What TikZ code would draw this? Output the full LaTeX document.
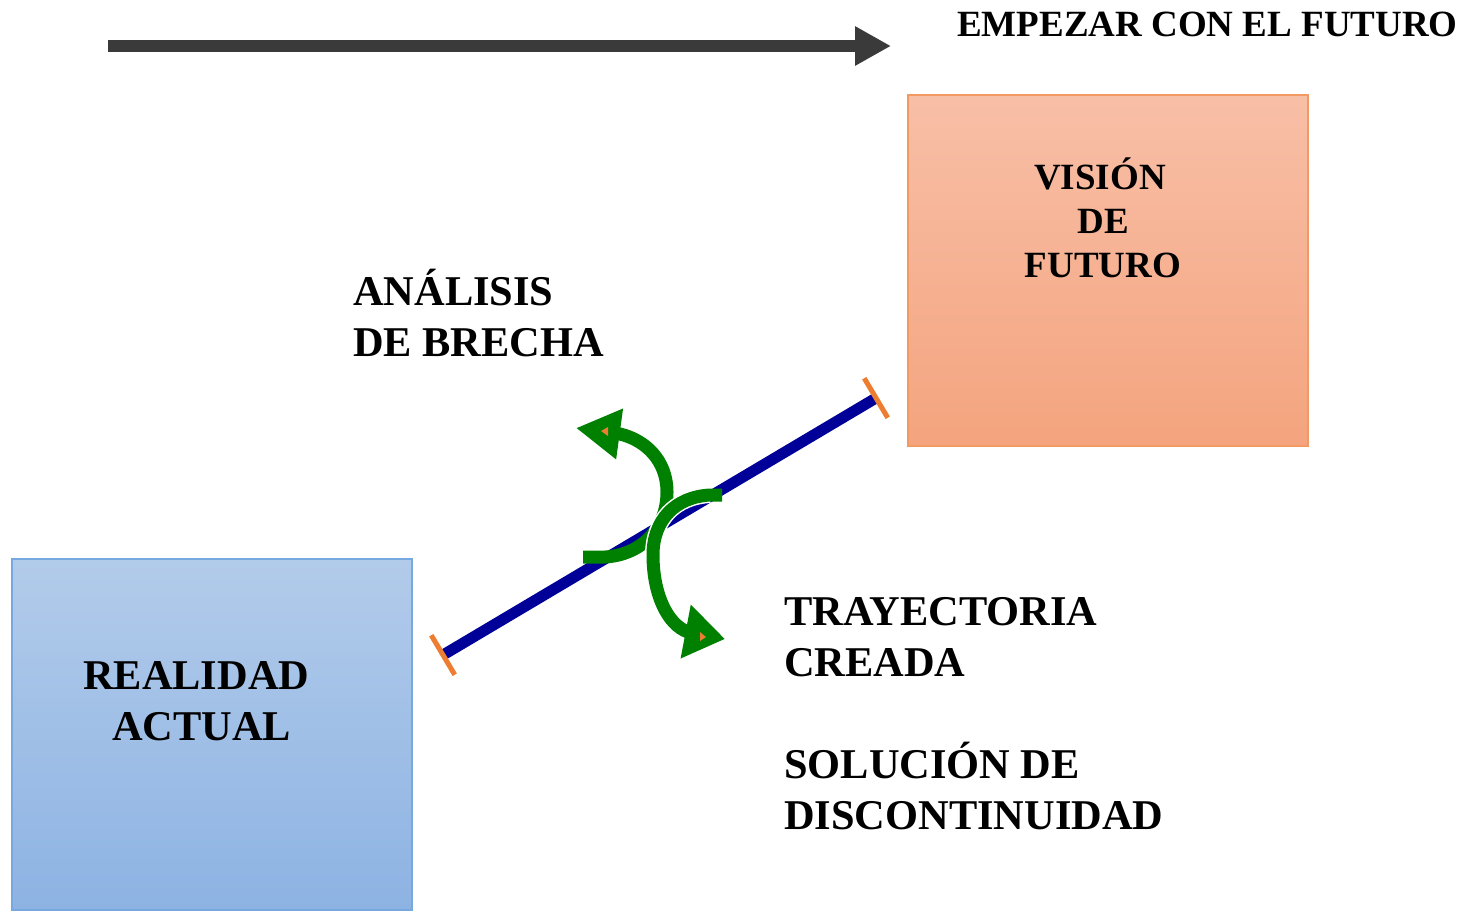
\documentclass[tikz,border=0pt]{standalone}
\usepackage{fontspec}
\setmainfont{Liberation Serif}
\usetikzlibrary{arrows.meta,calc}
\definecolor{orfill1}{HTML}{F8BFA7}
\definecolor{orfill2}{HTML}{F4A47E}
\definecolor{ordraw}{HTML}{F29A62}
\definecolor{blfill1}{HTML}{B2CBEA}
\definecolor{blfill2}{HTML}{8DB3E3}
\definecolor{bldraw}{HTML}{78A8E0}
\definecolor{navyline}{HTML}{000099}
\definecolor{greenarr}{HTML}{008000}
\definecolor{ticko}{HTML}{ED7D31}
\definecolor{darkarr}{HTML}{3A3A3A}
\tikzset{
  bigtxt/.style={inner sep=0pt, font=\fontsize{42.4}{51}\selectfont\bfseries},
  smalltxt/.style={inner sep=0pt, font=\fontsize{37}{44}\selectfont\bfseries},
  greencurve/.style={draw=greenarr, line width=13pt},
  tickline/.style={draw=ticko, line width=5pt},
}
\begin{document}
\begin{tikzpicture}[x=1pt,y=-1pt]
\useasboundingbox (0,0) rectangle (1466,913);
% boxes
\path[top color=orfill1, bottom color=orfill2, draw=ordraw, line width=1.5pt] (908,95) rectangle (1308,446);
\path[top color=blfill1, bottom color=blfill2, draw=bldraw, line width=1.5pt] (12,559) rectangle (412,910);
% top arrow
\coordinate (t1) at (108,46);
\coordinate (t2) at (891,46);
\draw[darkarr, line width=12pt, -{Triangle[length=36pt,width=37pt]}] (t1) -- (t2);
\node[smalltxt, anchor=base west] (emp) at (957,36) {EMPEZAR CON EL FUTURO};
% vision text
\node[smalltxt, anchor=base] (v1) at (1100,189) {VISIÓN};
\node[smalltxt, anchor=base] (v2) at (1103,233) {DE};
\node[smalltxt, anchor=base] (v3) at (1103,277) {FUTURO};
% realidad text
\node[bigtxt, anchor=base west] (r1) at (83,689) {REALIDAD};
\node[bigtxt, anchor=base west] (r2) at (112,740) {ACTUAL};
% analisis
\node[bigtxt, anchor=base west] (a1) at (353,305) {ANÁLISIS};
\node[bigtxt, anchor=base west] (a2) at (353,356) {DE BRECHA};
% trayectoria
\node[bigtxt, anchor=base west] (tr1) at (784,625) {TRAYECTORIA};
\node[bigtxt, anchor=base west] (tr2) at (784,676) {CREADA};
\node[bigtxt, anchor=base west] (s1) at (784,778) {SOLUCIÓN DE};
\node[bigtxt, anchor=base west] (s2) at (784,829) {DISCONTINUIDAD};
% blue line with ticks
\coordinate (la) at (443,655);
\coordinate (lb) at (876,398);
\draw[navyline, line width=11pt] (la) -- (lb);
\draw[tickline] ($(la)!23pt!90:(lb)$) -- ($(la)!23pt!-90:(lb)$);
\draw[tickline] ($(lb)!23pt!90:(la)$) -- ($(lb)!23pt!-90:(la)$);
% green curved arrows
\coordinate (g1s) at (583,557);
\coordinate (g1e) at (576,428);
\coordinate (g2s) at (722,495);
\coordinate (g2e) at (725,639);
\draw[greencurve, -{Triangle[length=44pt,width=48pt]}] (g1s) -- (605,557) .. controls (640,555) and (667,530) .. (667,492) .. controls (667,460) and (645,440) .. (620,434) -- (g1e);
\draw[white, line width=16pt] (710,495) .. controls (675,497) and (653,520) .. (653,555) .. controls (653,575) and (656,590) .. (660,600);
\draw[greencurve, -{Triangle[length=40pt,width=52pt]}] (g2s) -- (710,495) .. controls (675,497) and (653,520) .. (653,555) .. controls (653,595) and (668,625) .. (688,632) -- (g2e);
% small orange marks
\fill[ticko] (601,431) -- (608,427) -- (608,436) -- cycle;
\fill[ticko] (706,637) -- (700,632) -- (700,641) -- cycle;
\end{tikzpicture}
\end{document}
